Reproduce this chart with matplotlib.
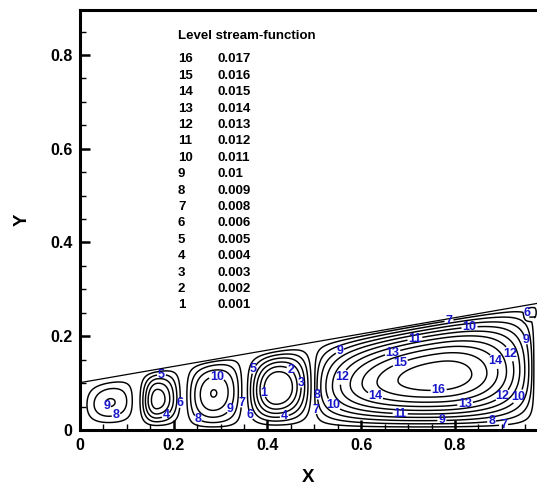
import numpy as np
import matplotlib
matplotlib.use("Agg")
import matplotlib.pyplot as plt
from matplotlib.ticker import MultipleLocator, FuncFormatter

plt.rcParams['font.family'] = ['Liberation Sans', 'DejaVu Sans']

# ---------------- data ----------------
level_ids = [16, 15, 14, 13, 12, 11, 10, 9, 8, 7, 6, 5, 4, 3, 2, 1]
level_values = [0.017, 0.016, 0.015, 0.014, 0.013, 0.012, 0.011, 0.01,
                0.009, 0.008, 0.006, 0.005, 0.004, 0.003, 0.002, 0.001]
wall_value = 0.007

# top boundary of the cavity (sloping lid)
domain_x = [0.0, 0.975]
domain_top = [0.101, 0.270]

# recirculation cells (x extents, centre, relative height extents, strength, profile exponents)
cell_x0 = [0.000, 0.117, 0.222, 0.350, 0.499, 0.945]
cell_x1 = [0.117, 0.222, 0.350, 0.499, 0.970, 0.978]
cell_xc = [0.064, 0.164, 0.285, 0.420, 0.770, 0.960]
cell_t0 = [0.0, 0.0, 0.0, 0.0, 0.0, 0.86]
cell_t1 = [1.0, 1.0, 1.0, 1.0, 1.0, 1.00]
cell_tc = [0.518, 0.495, 0.519, 0.507, 0.482, 0.93]
cell_amp = [0.0031, -0.0057, 0.00505, -0.0075, 0.0108, -0.0025]
cell_kxl = [1.1, 1.7, 0.85, 1.1, 0.52, 1.0]
cell_kxr = [0.62, 1.15, 0.75, 0.95, 0.55, 1.0]
cell_kyb = [1.3, 1.2, 0.8, 1.2, 1.0, 1.0]
cell_kyt = [1.0, 0.85, 0.7, 0.95, 0.8, 1.0]

# contour labels: (level id, approximate place)
label_places = [
    (9, 0.053, 0.047), (8, 0.078, 0.028),
    (5, 0.174, 0.109), (6, 0.212, 0.057), (4, 0.186, 0.027),
    (10, 0.292, 0.112), (9, 0.320, 0.045), (7, 0.340, 0.058), (8, 0.249, 0.021),
    (5, 0.359, 0.134), (6, 0.364, 0.032), (1, 0.393, 0.080), (2, 0.445, 0.123),
    (3, 0.470, 0.100), (4, 0.4375, 0.021),
    (7, 0.788, 0.229), (10, 0.831, 0.220), (11, 0.715, 0.192), (9, 0.5585, 0.160),
    (13, 0.667, 0.165), (15, 0.683, 0.1436), (14, 0.9035, 0.156), (12, 0.9306, 0.1685),
    (9, 0.950, 0.192), (12, 0.555, 0.115), (16, 0.765, 0.089), (8, 0.5087, 0.0747),
    (14, 0.6275, 0.066), (7, 0.505, 0.044), (10, 0.5336, 0.046), (12, 0.9035, 0.071),
    (10, 0.9355, 0.071), (13, 0.8218, 0.0547), (11, 0.683, 0.032), (9, 0.772, 0.0213),
    (8, 0.877, 0.0299), (7, 0.902, 0.0299), (6, 0.952, 0.249),
]

# ---------------- field ----------------
def side_profile(c, lo, mid, hi, k_lo, k_hi):
    d = np.where(c < mid, (c - lo) / (mid - lo), (hi - c) / (hi - mid))
    k = np.where(c < mid, k_lo, k_hi)
    d = np.clip(d, 0.0, 1.0)
    return np.sin(np.pi / 2 * d) ** k

xg = np.linspace(0.0, 0.975, 1200)
yg = np.linspace(0.0, 0.275, 500)
X, Y = np.meshgrid(xg, yg)
top = np.interp(X, domain_x, domain_top)
T = Y / top

psi = np.full_like(X, wall_value)
for i in range(len(cell_amp)):
    px = side_profile(X, cell_x0[i], cell_xc[i], cell_x1[i], cell_kxl[i], cell_kxr[i])
    py = side_profile(T, cell_t0[i], cell_tc[i], cell_t1[i], cell_kyb[i], cell_kyt[i])
    psi = psi + cell_amp[i] * px * py
psi = np.where(T <= 1.0, psi, wall_value)

# ---------------- figure ----------------
W, H = 537, 487
fig = plt.figure(figsize=(W / 100, H / 100), dpi=100)
ax = fig.add_axes([80 / W, 57 / H, 457 / W, 420 / H])
ax.set_xlim(0, 0.975)
ax.set_ylim(0, 0.896)

label_color = '#1616c8'
contour_sets = {}
for lid, lev in zip(level_ids, level_values):
    contour_sets[lid] = ax.contour(X, Y, psi, levels=[lev], colors='k', linewidths=1.05)

for lid, lx, ly in label_places:
    cs = contour_sets[lid]
    lev = level_values[level_ids.index(lid)]
    try:
        cs.clabel([lev], manual=[(lx, ly)], inline=True, inline_spacing=1,
                  fmt={lev: str(lid)}, fontsize=9, colors=label_color)
    except Exception:
        pass
for cs in contour_sets.values():
    for t in cs.labelTexts:
        t.set_rotation(0)
        t.set_fontweight('bold')

ax.plot(domain_x, domain_top, color='k', lw=0.9)

for s in ['top', 'left', 'bottom']:
    ax.spines[s].set_linewidth(2.2)
ax.spines['right'].set_visible(False)

ax.xaxis.set_major_locator(MultipleLocator(0.2))
ax.xaxis.set_minor_locator(MultipleLocator(0.05))
ax.yaxis.set_major_locator(MultipleLocator(0.2))
ax.yaxis.set_minor_locator(MultipleLocator(0.05))
fmt = FuncFormatter(lambda v, p: '0' if abs(v) < 1e-9 else ('%.1f' % v))
ax.xaxis.set_major_formatter(fmt)
ax.yaxis.set_major_formatter(fmt)
ax.tick_params(which='both', direction='in', top=False, right=False)
ax.tick_params(which='major', length=7.2, width=1.8, labelsize=11.5)
ax.tick_params(axis='y', which='major', pad=5.5)
ax.tick_params(axis='x', which='major', pad=6)
ax.tick_params(which='minor', length=4.3, width=1.0)
for lab in ax.get_xticklabels() + ax.get_yticklabels():
    lab.set_fontweight('bold')

ax.set_xlabel('X', fontsize=13.5, fontweight='bold', labelpad=11)
ax.set_ylabel('Y', fontsize=13.5, fontweight='bold', labelpad=14)

# level table
fig.text(178 / W, 1 - 36 / H, 'Level stream-function', fontsize=9.5, fontweight='bold',
         ha='left', va='center')
for j, (lid, val) in enumerate(zip(level_ids, level_values)):
    yy = 1 - (59.3 + j * 16.4) / H
    fig.text(178 / W, yy, str(lid), fontsize=9.5, fontweight='bold', ha='left', va='center')
    fig.text(218 / W, yy, '%g' % val, fontsize=9.5, fontweight='bold', ha='left', va='center')

fig.savefig('out.png', dpi=100)
